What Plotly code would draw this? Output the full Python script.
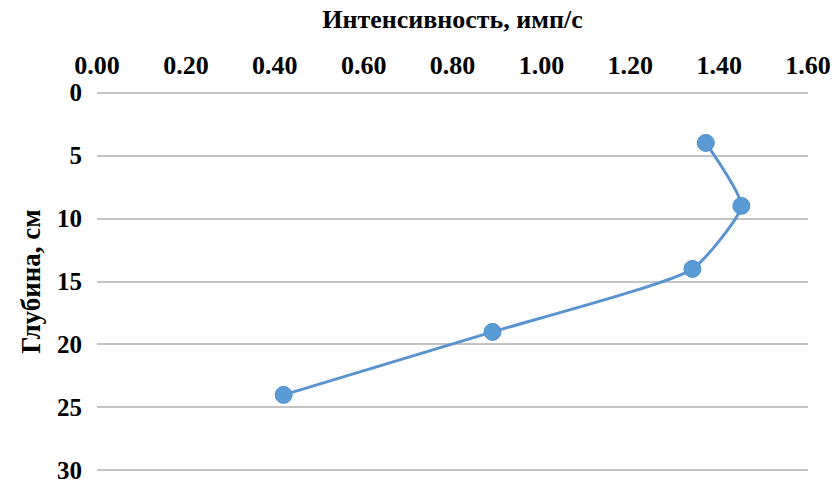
import plotly.graph_objects as go

depth_cm = [4, 9, 14, 19, 24]
intensity = [1.37, 1.45, 1.34, 0.89, 0.42]
x_ticks = [0.0, 0.2, 0.4, 0.6, 0.8, 1.0, 1.2, 1.4, 1.6]
y_ticks = [0, 5, 10, 15, 20, 25, 30]

font_family = "Liberation Serif, Times New Roman, serif"

fig = go.Figure()
fig.add_trace(go.Scatter(
    x=intensity, y=depth_cm,
    mode="lines+markers",
    line=dict(color="#5a93cf", width=3, shape="spline", smoothing=0.5),
    marker=dict(size=17, color="#5b9bd5", line=dict(color="#5090cc", width=1)),
    showlegend=False,
))

fig.update_layout(
    width=838, height=483,
    margin=dict(l=97, r=30, t=90, b=10),
    paper_bgcolor="white", plot_bgcolor="white",
    font=dict(family=font_family, size=26, color="black"),
    xaxis=dict(
        side="top", range=[0, 1.6], tickvals=x_ticks,
        ticktext=[f"{v:.2f}" for v in x_ticks],
        showgrid=False, zeroline=False, showline=False, automargin=False,
        ticks="", ticklabelstandoff=10, ticklabeloverflow="allow",
        tickfont=dict(family=font_family, size=26, color="black", weight="bold"),
        title=dict(text="<b>Интенсивность, имп/с</b>", standoff=14,
                   font=dict(family=font_family, size=26, color="black")),
    ),
    yaxis=dict(
        range=[30.2, -0.2], tickvals=y_ticks, automargin=False,
        showgrid=True, gridcolor="#c4c4c4", gridwidth=2,
        zeroline=False, showline=False, ticks="", ticklabelstandoff=14,
        ticklabeloverflow="allow",
        tickfont=dict(family=font_family, size=25, color="black", weight="bold"),
        title=dict(text="<b>Глубина, см</b>", standoff=8,
                   font=dict(family=font_family, size=27, color="black")),
    ),
)

fig.write_html(
    "out.html",
    config={"displayModeBar": False},
    post_script="document.body.style.margin='0';document.body.style.overflow='hidden';",
)
